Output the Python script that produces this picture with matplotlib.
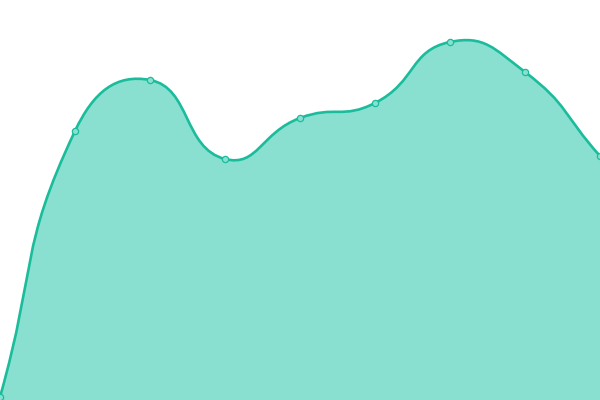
import matplotlib
matplotlib.use('Agg')
import matplotlib.pyplot as plt
from matplotlib.path import Path
from matplotlib.patches import PathPatch

# values (axis 0..400)
categories = list(range(9))
values = [3, 269, 320, 241, 282, 297, 358, 328, 244]

LINE_COLOR = '#1abc9c'
FILL_COLOR = '#8ae0d0'
X_SCALE = 75.0  # pixels per category step


def smooth_path(xs, ys, smooth=0.5):
    """Bezier path through the points, echarts-style smoothing."""
    px = [x * X_SCALE for x in xs]
    n = len(px)
    cps = []
    for i in range(n):
        a = max(i - 1, 0)
        b = min(i + 1, n - 1)
        vx = px[b] - px[a]
        vy = ys[b] - ys[a]
        d0 = ((px[i] - px[a]) ** 2 + (ys[i] - ys[a]) ** 2) ** 0.5
        d1 = ((px[b] - px[i]) ** 2 + (ys[b] - ys[i]) ** 2) ** 0.5
        r = d1 / (d0 + d1)
        before = (px[i] - vx * smooth * (1 - r), ys[i] - vy * smooth * (1 - r))
        after = (px[i] + vx * smooth * r, ys[i] + vy * smooth * r)
        cps.append((before, after))
    verts = [(px[0], ys[0])]
    codes = [Path.MOVETO]
    for i in range(1, n):
        verts += [cps[i - 1][1], cps[i][0], (px[i], ys[i])]
        codes += [Path.CURVE4] * 3
    verts = [(x / X_SCALE, y) for x, y in verts]
    return verts, codes


fig = plt.figure(figsize=(6, 4), dpi=100)
ax = fig.add_axes([0, 0, 1, 1])

verts, codes = smooth_path(categories, values)
area_verts = verts + [(categories[-1], 0), (categories[0], 0), verts[0]]
area_codes = codes + [Path.LINETO, Path.LINETO, Path.CLOSEPOLY]
ax.add_patch(PathPatch(Path(area_verts, area_codes), facecolor=FILL_COLOR,
                       edgecolor='none'))
ax.add_patch(PathPatch(Path(verts, codes), facecolor='none',
                       edgecolor=LINE_COLOR, linewidth=1.9))
ax.plot(categories, values, linestyle='none', marker='o', markersize=4.5,
        markerfacecolor='#8ae0d0', markeredgecolor=LINE_COLOR,
        markeredgewidth=0.9)

ax.set_xlim(0, 8)
ax.set_ylim(0, 400)
ax.axis('off')

fig.savefig('out.png', dpi=100)
